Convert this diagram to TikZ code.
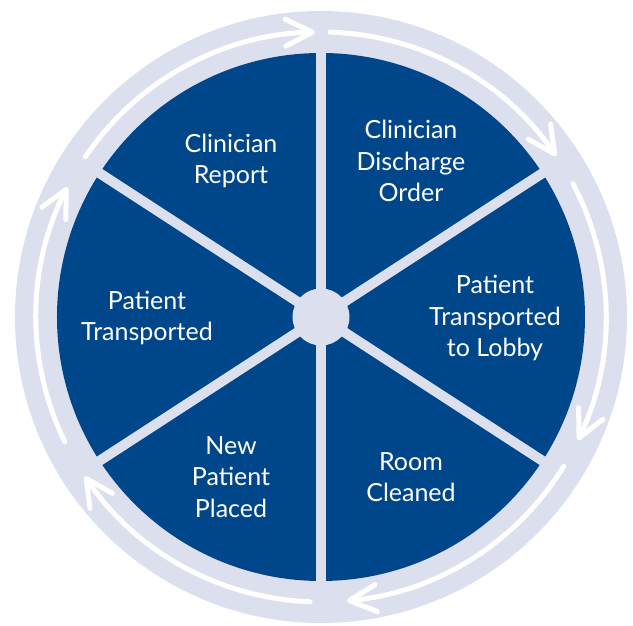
\documentclass[tikz,border=0pt]{standalone}
\usepackage{fontspec}
\setmainfont{Lato}
\usetikzlibrary{arrows.meta}
\definecolor{navy}{RGB}{0,70,139}
\definecolor{lilac}{RGB}{220,223,238}

\begin{document}
\begin{tikzpicture}[x=1pt,y=1pt,
  stage/.style={text=white,align=center,font=\fontsize{25}{31.5}\selectfont},
  spoke/.style={lilac,line width=10pt},
  flow/.style={white,line width=5pt,line cap=round,
    -{Straight Barb[length=27pt,width=27pt,round]}}]
\useasboundingbox (-321,-309) rectangle (312,317);
% ring and disc
\fill[lilac] (0,0) circle (306pt);
\fill[navy] (0,0) circle (264pt);
\node[circle,fill=lilac,minimum size=57pt,inner sep=0pt] (hub) at (0,0) {};
\foreach \a in {90,33,-33,-90,-147,147}
  \draw[spoke] (hub.center) -- (\a:265);
% the cycle, clockwise
\draw[flow] (145.8:285) arc[start angle=145.8,end angle=91.2,radius=285pt];
\draw[flow] (88.2:285) arc[start angle=88.2,end angle=34.4,radius=285pt];
\draw[flow] (27.9:285) arc[start angle=27.9,end angle=-25.6,radius=285pt];
\draw[flow] (-31.6:285) arc[start angle=-31.6,end angle=-84.8,radius=285pt];
\draw[flow] (-92.2:285) arc[start angle=-92.2,end angle=-146,radius=285pt];
\draw[flow] (206:285) arc[start angle=206,end angle=152.9,radius=285pt];
% stages
\node[stage] (report) at (-90,156) {Clinician\\Report};
\node[stage] (discharge) at (90,156) {Clinician\\Discharge\\Order};
\node[stage] (lobby) at (174,-1) {Patient\\Transported\\to Lobby};
\node[stage] (cleaned) at (90,-160) {Room\\Cleaned};
\node[stage] (placed) at (-90,-160) {New\\Patient\\Placed};
\node[stage] (transported) at (-174,-1) {Patient\\Transported};
\end{tikzpicture}
\end{document}
